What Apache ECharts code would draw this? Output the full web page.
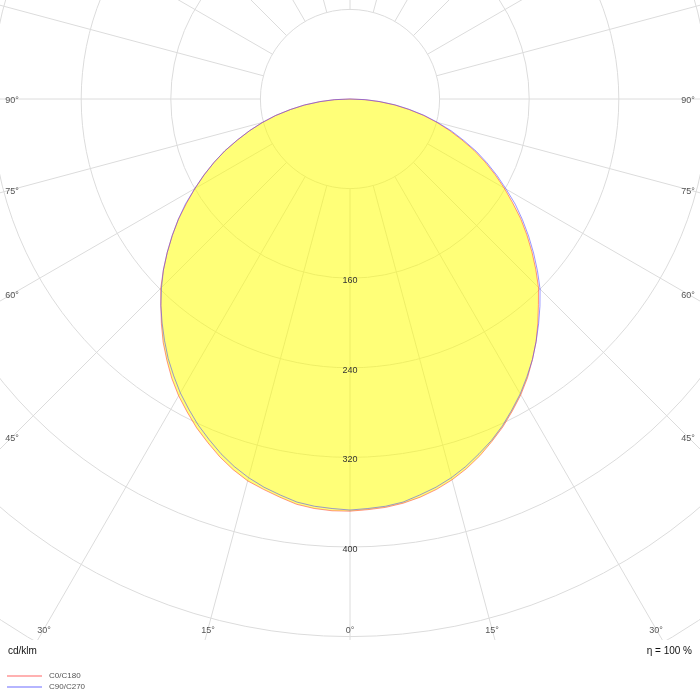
<!DOCTYPE html>
<html>
<head>
<meta charset="utf-8">
<title>Lichtverteilung</title>
<script src="https://cdn.jsdelivr.net/npm/echarts@6/dist/echarts.min.js"></script>
<style>
    html, body { margin: 0; padding: 0; background: #fff; }
    #chart { width: 700px; height: 700px; }
</style>
</head>
<body>
<div id="chart"></div>
<script>
// gamma angles from nadir, in degrees
var gammaAngles = [0, 2.5, 5, 7.5, 10, 12.5, 15, 17.5, 20, 22.5, 25, 27.5, 30, 32.5, 35, 37.5, 40, 42.5, 45,
                   47.5, 50, 52.5, 55, 57.5, 60, 62.5, 65, 67.5, 70, 72.5, 75, 77.5, 80, 82.5, 85, 87.5, 90];
// intensities in cd/klm
var c0   = [368, 367, 366, 364, 361, 357, 352, 346, 339, 331, 323, 314, 305, 295, 284, 273, 261, 249, 238,
            225, 212, 199, 186, 172, 159, 146, 133, 120, 106, 93, 80, 67, 53, 40, 26, 13, 0];
var c180 = [368, 368, 367, 365, 361, 357, 353, 347, 340, 332, 324, 315, 306, 296, 285, 274, 262, 250, 239,
            226, 213, 200, 187, 173, 160, 147, 134, 121, 107, 94, 81, 68, 54, 41, 27, 14, 0];
var c90  = [367, 366, 365, 363, 359, 355, 350, 344, 337, 330, 322, 313, 304, 294, 284, 273, 262, 251, 240,
            227, 214, 201, 188, 175, 161, 148, 135, 122, 108, 95, 81, 68, 54, 41, 27, 14, 0];
var c270 = [367, 366, 365, 363, 359, 355, 350, 344, 337, 329, 321, 312, 303, 293, 283, 272, 261, 250, 238,
            226, 213, 200, 187, 174, 160, 147, 134, 121, 107, 94, 81, 68, 54, 41, 27, 14, 0];

var seriesNames = ['C0/C180', 'C90/C270'];
var radiusLabels = ['160', '240', '320', '400'];
var angleLabels = [0, 15, 30, 45, 60, 75, 90];

var cx = 350, cy = 99;
var pxPerUnit = 1.12;
var rMax = 640;
var outerR = rMax * pxPerUnit;
var plotW = 700, plotH = 640;
var labelFont = '9px "Liberation Sans", Arial, sans-serif';

// closed loop: left half-plane from 90 down to nadir, then right half-plane up to 90
function planePair(left, right) {
    var pts = [];
    for (var i = gammaAngles.length - 1; i >= 0; i--) {
        pts.push([left[i], 360 - gammaAngles[i]]);
    }
    for (var j = 0; j < gammaAngles.length; j++) {
        pts.push([right[j], gammaAngles[j]]);
    }
    return pts;
}

// where a gamma ray leaves the picture, pulled in a bit
function edgeLabelPos(g, side) {
    var a = g * Math.PI / 180;
    var dx = side * Math.sin(a), dy = Math.cos(a);
    var tSide = Math.abs(dx) > 1e-6 ? (side < 0 ? cx - 12 : plotW - 12 - cx) / Math.abs(dx) : Infinity;
    var tBottom = dy > 1e-6 ? (plotH - 11 - cy) / dy : Infinity;
    var t = Math.min(tSide, tBottom);
    return [cx + dx * t, cy + dy * t];
}

var graphics = [{
    type: 'rect', z: 100,
    shape: { x: 0, y: plotH, width: plotW, height: 700 - plotH },
    style: { fill: '#fff' }
}];
angleLabels.forEach(function (g) {
    [-1, 1].forEach(function (side) {
        if (g === 0 && side > 0) return;
        var p = edgeLabelPos(g, side);
        graphics.push({
            type: 'text', z: 120, x: p[0], y: p[1] + 1.5,
            style: { text: g + '°', font: labelFont, fill: '#555', align: 'center', verticalAlign: 'middle' }
        });
    });
});
graphics.push({
    type: 'text', z: 120, x: 8, y: 651,
    style: { text: 'cd/klm', font: '10px "Liberation Sans", Arial, sans-serif', fill: '#111', align: 'left', verticalAlign: 'middle' }
});
graphics.push({
    type: 'text', z: 120, x: 692, y: 651,
    style: { text: 'η = 100 %', font: '10px "Liberation Sans", Arial, sans-serif', fill: '#111', align: 'right', verticalAlign: 'middle' }
});

var myChart = echarts.init(document.getElementById('chart'), null, { renderer: 'canvas' });
var option = {
    animation: false,
    polar: [
        { center: [cx, cy], radius: [80 * pxPerUnit, outerR] },
        { center: [cx, cy], radius: [0, outerR] }
    ],
    angleAxis: [{
        polarIndex: 0, type: 'value', min: 0, max: 360, interval: 15,
        startAngle: 270, clockwise: false,
        axisLine: { show: false }, axisTick: { show: false }, axisLabel: { show: false },
        splitLine: { show: true, lineStyle: { color: '#dcdcdc', width: 1 } }
    }, {
        polarIndex: 1, type: 'value', min: 0, max: 360, interval: 15,
        startAngle: 270, clockwise: false, show: false
    }],
    radiusAxis: [{
        polarIndex: 0, type: 'value', min: 80, max: rMax, interval: 80,
        axisLine: { show: false }, axisTick: { show: false }, axisLabel: { show: false },
        splitLine: { show: true, lineStyle: { color: '#dcdcdc', width: 1 } }
    }, {
        polarIndex: 1, type: 'value', min: 0, max: rMax, interval: 80, z: 10,
        axisLine: { show: false }, axisTick: { show: false }, splitLine: { show: false },
        axisLabel: {
            margin: 0, align: 'center', verticalAlign: 'top', lineHeight: 5,
            fontSize: 9, color: '#333', fontFamily: '"Liberation Sans", Arial, sans-serif',
            formatter: function (v) { return radiusLabels.indexOf(String(v)) >= 0 ? String(v) : ''; }
        }
    }],
    legend: {
        orient: 'vertical', left: 7, top: 672, z: 120, padding: 0,
        icon: 'rect', itemWidth: 35, itemHeight: 2, itemGap: 3,
        textStyle: { fontSize: 8, color: '#555', fontFamily: '"Liberation Sans", Arial, sans-serif', padding: [0, 0, 0, 2] },
        data: seriesNames
    },
    graphic: graphics,
    series: [{
        name: seriesNames[0], type: 'line', coordinateSystem: 'polar', polarIndex: 1,
        data: planePair(c180, c0), symbol: 'none', smooth: false,
        itemStyle: { color: 'rgba(255,60,60,0.4)' },
        lineStyle: { color: 'rgba(255,60,60,0.55)', width: 1 },
        areaStyle: { color: 'rgba(255,255,0,0.53)', opacity: 1 }
    }, {
        name: seriesNames[1], type: 'line', coordinateSystem: 'polar', polarIndex: 1,
        data: planePair(c270, c90), symbol: 'none', smooth: false,
        itemStyle: { color: 'rgba(70,70,255,0.4)' },
        lineStyle: { color: 'rgba(70,70,255,0.55)', width: 1 }
    }]
};
myChart.setOption(option);
</script>
</body>
</html>
